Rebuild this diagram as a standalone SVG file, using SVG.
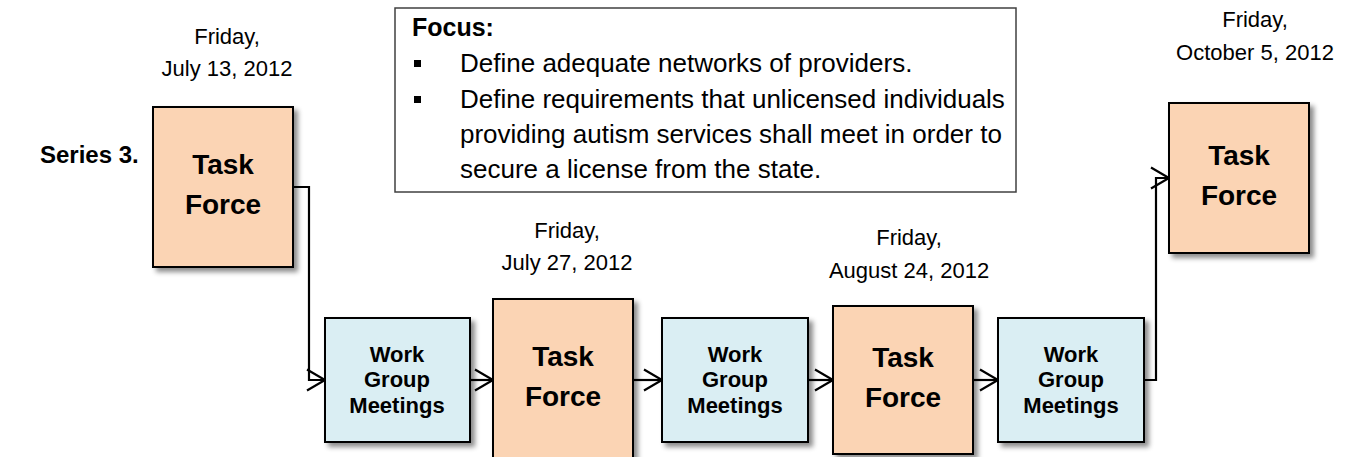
<svg xmlns="http://www.w3.org/2000/svg" width="1346" height="457" viewBox="0 0 1346 457">
<defs>
<filter id="sh" x="-10%" y="-10%" width="130%" height="130%">
<feDropShadow dx="4" dy="4" stdDeviation="2.5" flood-color="#000" flood-opacity="0.45"/>
</filter>
<marker id="arr" markerUnits="userSpaceOnUse" markerWidth="24" markerHeight="26" refX="19" refY="12" orient="auto">
<path d="M1,1.5 L19,12 L1,22.5" fill="none" stroke="#000" stroke-width="2.2"/>
</marker>
</defs>
<style>
.tf{fill:#FBD4B4;stroke:#000;stroke-width:2;filter:url(#sh)}
.wg{fill:#DAEEF3;stroke:#000;stroke-width:2;filter:url(#sh)}
.tft{font-family:"Liberation Sans",Arial,sans-serif;font-weight:bold;font-size:28px;text-anchor:middle;fill:#000}
.wgt{font-family:"Liberation Sans",Arial,sans-serif;font-weight:bold;font-size:22px;text-anchor:middle;fill:#000}
.date{font-family:"Liberation Sans",Arial,sans-serif;font-size:22px;text-anchor:middle;fill:#000}
.ft{font-family:"Liberation Sans",Arial,sans-serif;font-size:26px;fill:#000}
.con{fill:none;stroke:#000;stroke-width:2.2;marker-end:url(#arr)}
</style>
<rect width="1346" height="457" fill="#fff"/>

<g id="series-label">
<text x="40" y="163" style="font-family:'Liberation Sans',Arial,sans-serif;font-weight:bold;font-size:24px">Series 3.</text>
</g>

<g id="focus">
<rect x="395" y="8" width="621" height="184" fill="#fff" stroke="#404040" stroke-width="1.5"/>
<text x="412" y="36" class="ft" style="font-weight:bold;font-size:25px">Focus:</text>
<rect x="414" y="60" width="7" height="7" fill="#000"/>
<text x="460" y="72" class="ft">Define adequate networks of providers.</text>
<rect x="414" y="96" width="7" height="7" fill="#000"/>
<text x="460" y="108" class="ft">Define requirements that unlicensed individuals</text>
<text x="460" y="143" class="ft">providing autism services shall meet in order to</text>
<text x="460" y="178" class="ft">secure a license from the state.</text>
</g>

<g id="date1">
<text x="227" y="44" class="date">Friday,</text>
<text x="227" y="76" class="date">July 13, 2012</text>
</g>
<g id="date2">
<text x="567" y="238" class="date">Friday,</text>
<text x="567" y="270" class="date">July 27, 2012</text>
</g>
<g id="date3">
<text x="909" y="245" class="date">Friday,</text>
<text x="909" y="278" class="date">August 24, 2012</text>
</g>
<g id="date4">
<text x="1255" y="27" class="date">Friday,</text>
<text x="1255" y="60" class="date">October 5, 2012</text>
</g>

<g id="connectors">
<path class="con" d="M293,187 H309 V380 H325"/>
<path class="con" d="M470,380 H493"/>
<path class="con" d="M633,380 H662"/>
<path class="con" d="M808,380 H833"/>
<path class="con" d="M973,380 H998"/>
<path class="con" d="M1144,380 H1156 V178 H1169"/>
</g>

<g id="tf1">
<rect class="tf" x="153" y="107" width="140" height="160"/>
<text class="tft" x="223" y="174">Task</text>
<text class="tft" x="223" y="214">Force</text>
</g>
<g id="wg1">
<rect class="wg" x="325" y="318" width="145" height="124"/>
<text class="wgt" x="397" y="362">Work</text>
<text class="wgt" x="397" y="387">Group</text>
<text class="wgt" x="397" y="413">Meetings</text>
</g>
<g id="tf2">
<rect class="tf" x="493" y="299" width="140" height="166"/>
<text class="tft" x="563" y="366">Task</text>
<text class="tft" x="563" y="406">Force</text>
</g>
<g id="wg2">
<rect class="wg" x="662" y="318" width="146" height="124"/>
<text class="wgt" x="735" y="362">Work</text>
<text class="wgt" x="735" y="387">Group</text>
<text class="wgt" x="735" y="413">Meetings</text>
</g>
<g id="tf3">
<rect class="tf" x="833" y="306" width="140" height="148"/>
<text class="tft" x="903" y="367">Task</text>
<text class="tft" x="903" y="407">Force</text>
</g>
<g id="wg3">
<rect class="wg" x="998" y="318" width="146" height="124"/>
<text class="wgt" x="1071" y="362">Work</text>
<text class="wgt" x="1071" y="387">Group</text>
<text class="wgt" x="1071" y="413">Meetings</text>
</g>
<g id="tf4">
<rect class="tf" x="1169" y="103" width="140" height="150"/>
<text class="tft" x="1239" y="165">Task</text>
<text class="tft" x="1239" y="205">Force</text>
</g>
</svg>
